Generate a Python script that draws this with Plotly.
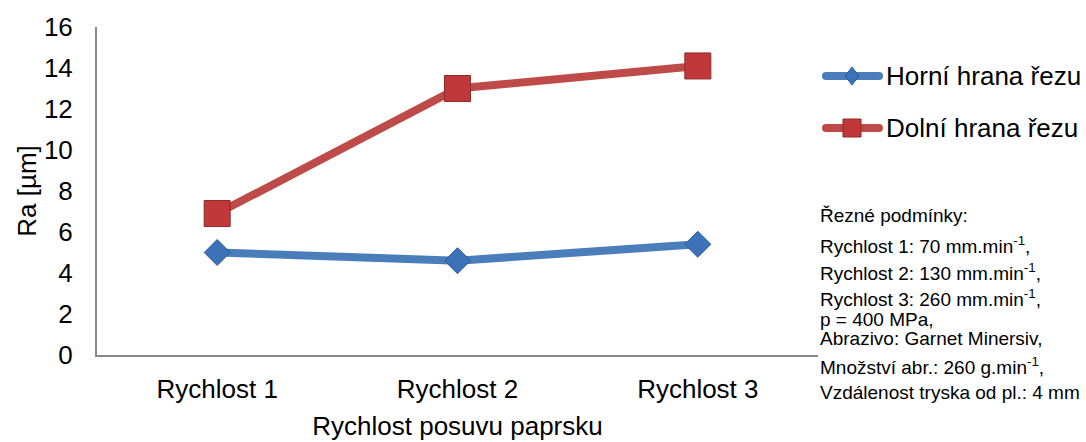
import plotly.graph_objects as go

# Data
categories = ["Rychlost 1", "Rychlost 2", "Rychlost 3"]
horni = [5.0, 4.6, 5.4]
dolni = [6.9, 13.0, 14.1]
series_names = ["Horní hrana řezu", "Dolní hrana řezu"]
y_ticks = [0, 2, 4, 6, 8, 10, 12, 14, 16]

BLUE_LINE = "#4a7ebb"
BLUE_MARK = "#3c72b8"
BLUE_EDGE = "#2f5c94"
RED_LINE = "#be4b48"
RED_MARK = "#c0383a"
RED_EDGE = "#8f2a28"

FONT = "Liberation Sans, Arial, sans-serif"
BIG = 26

fig = go.Figure()
fig.add_trace(go.Scatter(
    x=categories, y=horni, mode="lines+markers", name=series_names[0],
    line=dict(color=BLUE_LINE, width=8),
    marker=dict(symbol="diamond", size=20, color=BLUE_MARK,
                line=dict(color=BLUE_EDGE, width=1)),
    showlegend=False,
))
fig.add_trace(go.Scatter(
    x=categories, y=dolni, mode="lines+markers", name=series_names[1],
    line=dict(color=RED_LINE, width=8),
    marker=dict(symbol="square", size=26, color=RED_MARK,
                line=dict(color=RED_EDGE, width=1)),
    showlegend=False,
))

W, H = 1086, 442
ML, MR, MT, MB = 97, 268, 27, 87
PW, PH = W - ML - MR, H - MT - MB


def px_x(px):
    return (px - ML) / PW


def px_y(py):
    return (H - MB - py) / PH


shapes = []
annotations = []

# Custom legend: thick rounded line swatch with a centred marker, then the label
legend_items = [
    (series_names[0], 76, BLUE_LINE, BLUE_MARK, BLUE_EDGE, "diamond"),
    (series_names[1], 128, RED_LINE, RED_MARK, RED_EDGE, "square"),
]
for name, py, lc, mc, ec, sym in legend_items:
    yy = px_y(py)
    shapes.append(dict(type="line", xref="paper", yref="paper",
                       x0=px_x(826), x1=px_x(879), y0=yy, y1=yy,
                       line=dict(color=lc, width=8), layer="above"))
    for cx in (826, 879):
        shapes.append(dict(type="circle", xref="paper", yref="paper",
                           xsizemode="pixel", ysizemode="pixel",
                           xanchor=px_x(cx), yanchor=yy,
                           x0=-4, x1=4, y0=-4, y1=4,
                           fillcolor=lc, line=dict(width=0), layer="above"))
    if sym == "diamond":
        path = "M0,9 L7,0 L0,-9 L-7,0 Z"
    else:
        path = "M-9,-9 L9,-9 L9,9 L-9,9 Z"
    shapes.append(dict(type="path", xref="paper", yref="paper",
                       xsizemode="pixel", ysizemode="pixel",
                       xanchor=px_x(852), yanchor=yy, path=path,
                       fillcolor=mc, line=dict(color=ec, width=1),
                       layer="above"))
    annotations.append(dict(x=px_x(884), y=yy, xref="paper", yref="paper",
                            text=name, showarrow=False, xanchor="left",
                            yanchor="middle",
                            font=dict(family=FONT, size=BIG, color="#000000")))

# Cutting conditions note
note_lines = [
    ("Řezné podmínky:", 215),
    ("Rychlost 1: 70 mm.min<sup>-1</sup>,", 245),
    ("Rychlost 2: 130 mm.min<sup>-1</sup>,", 272),
    ("Rychlost 3: 260 mm.min<sup>-1</sup>,", 298),
    ("p = 400 MPa,", 319),
    ("Abrazivo: Garnet Minersiv,", 338),
    ("Množství abr.: 260 g.min<sup>-1</sup>,", 366),
    ("Vzdálenost tryska od pl.: 4 mm", 392),
]
for txt, py in note_lines:
    annotations.append(dict(x=px_x(818), y=px_y(py), xref="paper", yref="paper",
                            text=txt, showarrow=False, xanchor="left",
                            yanchor="middle",
                            font=dict(family=FONT, size=19, color="#000000")))

fig.update_layout(
    width=W, height=H,
    margin=dict(l=ML, r=MR, t=MT, b=MB, pad=0, autoexpand=False),
    paper_bgcolor="white", plot_bgcolor="white",
    font=dict(family=FONT, color="#000000"),
    shapes=shapes, annotations=annotations,
    showlegend=False,
)
fig.update_xaxes(
    type="category", range=[-0.5, 2.5], automargin=False,
    showline=True, linecolor="#888888", linewidth=2,
    showgrid=False, zeroline=False, ticks="",
    tickfont=dict(family=FONT, size=BIG),
    ticklabelstandoff=10,
    title=dict(text="Rychlost posuvu paprsku", font=dict(family=FONT, size=BIG),
               standoff=14),
)
fig.update_yaxes(
    range=[0, 16], tickvals=y_ticks, automargin=False,
    showline=True, linecolor="#888888", linewidth=2,
    showgrid=False, zeroline=False, ticks="",
    tickfont=dict(family=FONT, size=BIG),
    ticklabelstandoff=17,
    title=dict(text="Ra [µm]", font=dict(family=FONT, size=BIG), standoff=0),
)

fig.write_html("out.html")
